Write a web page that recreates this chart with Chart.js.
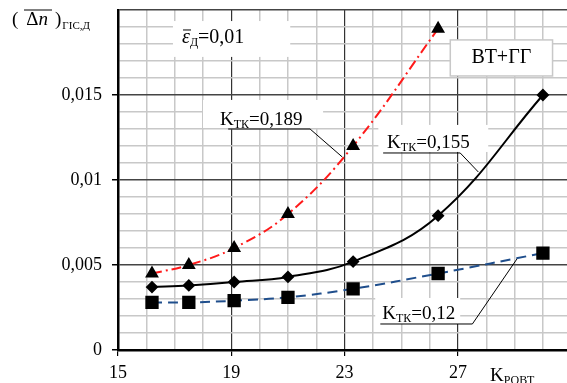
<!DOCTYPE html>
<html>
<head>
<meta charset="utf-8">
<script src="https://cdn.jsdelivr.net/npm/chart.js@4.4.1/dist/chart.umd.min.js"></script>
<style>
  html, body { margin: 0; padding: 0; background: #fff; }
</style>
</head>
<body>
<canvas id="chart" width="567" height="383"></canvas>
<script>
// K_ROVT values (x) and the three series
const kRovt = [16.2, 17.5, 19.1, 21.0, 23.3, 26.3, 30.0];
const k189 = [0.0045, 0.005, 0.006, 0.008, 0.012, 0.0189];
const k155 = [0.0037, 0.0038, 0.004, 0.0043, 0.0052, 0.0079, 0.015];
const k120 = [0.0028, 0.0028, 0.0029, 0.0031, 0.0036, 0.0045, 0.0057];
const xLabels = [15, 19, 23, 27];
const yLabels = [0, 0.005, 0.01, 0.015];

const serif = "'Liberation Serif', 'DejaVu Serif', serif";

function pts(ys) {
  return ys.map((v, i) => ({ x: kRovt[i], y: v }));
}

function isMajorY(v) {
  const r = v / 0.005;
  return Math.abs(r - Math.round(r)) < 1e-6;
}
function isMajorX(v) {
  return xLabels.includes(v);
}

// draws a run of text pieces, each {t, size, dy, italic, gap}
function rich(ctx, x, y, parts) {
  const x0 = x;
  parts.forEach(p => {
    ctx.font = (p.italic ? 'italic ' : '') + p.size + 'px ' + serif;
    const w = ctx.measureText(p.t).width;
    ctx.fillText(p.t, x, y + (p.dy || 0));
    x += w + (p.gap || 0);
  });
  return x - x0;
}

function overline(ctx, x0, x1, y) {
  ctx.beginPath();
  ctx.lineWidth = 1;
  ctx.moveTo(x0, y);
  ctx.lineTo(x1, y);
  ctx.stroke();
}

function kLabel(val) {
  return [
    { t: 'K', size: 19 },
    { t: 'ТК', size: 12, dy: 3 },
    { t: '=' + val, size: 19 }
  ];
}

const notes = {
  id: 'notes',
  beforeDatasetsDraw(chart) {
    const { ctx, scales: { x, y } } = chart;
    const X = v => x.getPixelForValue(v);
    const Y = v => y.getPixelForValue(v);
    ctx.save();
    ctx.fillStyle = '#fff';
    // white boxes hiding the grid
    [[16.94, 0.01935, 21.08, 0.01724],
     [18.0, 0.01471, 22.24, 0.01306],
     [24.19, 0.01324, 28.07, 0.01165],
     [24.08, 0.00306, 27.08, 0.00153],
     [26.73, 0.01824, 30.34, 0.01612]].forEach(b => {
      ctx.fillRect(X(b[0]), Y(b[1]), X(b[2]) - X(b[0]), Y(b[3]) - Y(b[1]));
    });
    // framed box for BT+GG
    ctx.strokeStyle = '#c8c8c8';
    ctx.lineWidth = 1.5;
    ctx.strokeRect(X(26.73), Y(0.01824), X(30.34) - X(26.73), Y(0.01612) - Y(0.01824));

    ctx.fillStyle = '#000';
    ctx.strokeStyle = '#000';
    ctx.textBaseline = 'alphabetic';
    ctx.font = '20px ' + serif;
    ctx.textAlign = 'center';
    ctx.fillText('ВТ+ГГ', (X(26.73) + X(30.34)) / 2, Y(0.01624) - 11);
    ctx.textAlign = 'left';

    const ex = X(17.26), ey = Y(0.01806);
    rich(ctx, ex, ey, [
      { t: 'ε', size: 20, italic: true },
      { t: 'Д', size: 12, dy: 3 },
      { t: '=0,01', size: 20 }
    ]);
    overline(ctx, ex + 1, ex + 9, ey - 13);
    rich(ctx, X(18.6), Y(0.01324), kLabel('0,189'));
    rich(ctx, X(24.5), Y(0.01188), kLabel('0,155'));
    rich(ctx, X(24.33), Y(0.00182), kLabel('0,12'));

    // leader lines
    ctx.lineWidth = 1;
    [[[18.89, 0.0130], [21.78, 0.0130], [22.92, 0.01135]],
     [[24.36, 0.01159], [27.08, 0.01159], [27.72, 0.01047]],
     [[24.26, 0.00153], [27.51, 0.00153], [29.13, 0.00547]]].forEach(l => {
      ctx.beginPath();
      l.forEach((p, i) => (i ? ctx.lineTo(X(p[0]), Y(p[1])) : ctx.moveTo(X(p[0]), Y(p[1]))));
      ctx.stroke();
    });
    ctx.restore();
  },
  afterDraw(chart) {
    const { ctx } = chart;
    ctx.save();
    ctx.fillStyle = '#000';
    ctx.strokeStyle = '#000';
    ctx.textBaseline = 'alphabetic';
    // y axis title
    rich(ctx, 12, 25, [
      { t: '(', size: 19, gap: 8 },
      { t: 'Δ', size: 19 },
      { t: 'n', size: 19, italic: true, gap: 7 },
      { t: ')', size: 19, gap: 1 },
      { t: 'ГІС,Д', size: 11, dy: 4 }
    ]);
    overline(ctx, 24, 52, 10);
    // x axis title
    rich(ctx, 490, 381, [
      { t: 'K', size: 19 },
      { t: 'РОВТ', size: 12, dy: 3 }
    ]);
    ctx.restore();
  }
};

new Chart(document.getElementById('chart'), {
  type: 'line',
  data: {
    datasets: [
      {
        label: 'Kтк=0,189',
        data: pts(k189),
        borderColor: '#ff1a1a',
        borderWidth: 2,
        borderDash: [10, 4, 2, 4],
        pointStyle: 'triangle',
        pointRadius: 6,
        pointBackgroundColor: '#000',
        pointBorderColor: '#000',
        tension: 0.4
      },
      {
        label: 'Kтк=0,155',
        data: pts(k155),
        borderColor: '#000',
        borderWidth: 2,
        pointStyle: 'rectRot',
        pointRadius: 5,
        pointBackgroundColor: '#000',
        pointBorderColor: '#000',
        tension: 0.4
      },
      {
        label: 'Kтк=0,12',
        data: pts(k120),
        borderColor: '#1f4e8c',
        borderWidth: 2,
        borderDash: [10, 6],
        pointStyle: 'rect',
        pointRadius: 8,
        pointBackgroundColor: '#000',
        pointBorderColor: '#000',
        tension: 0.4
      }
    ]
  },
  options: {
    responsive: false,
    animation: false,
    layout: { autoPadding: false, padding: { top: 10, left: 0, right: 0, bottom: 0 } },
    plugins: { legend: { display: false }, tooltip: { enabled: false } },
    scales: {
      x: {
        type: 'linear',
        min: 15,
        max: 30.85,
        afterBuildTicks: axis => {
          axis.ticks = [];
          for (let v = 15; v <= 30; v++) axis.ticks.push({ value: v });
        },
        afterFit: axis => {
          axis.height = 33;
          axis.paddingLeft = 0;
          axis.paddingRight = 0;
        },
        grid: {
          color: c => (isMajorX(c.tick.value) ? '#333' : '#c8c8c8'),
          lineWidth: c => (isMajorX(c.tick.value) ? 1.2 : 1.5),
          tickColor: c => (isMajorX(c.tick.value) ? '#000' : 'rgba(0,0,0,0)'),
          tickLength: 6
        },
        border: { color: '#000', width: 2.5 },
        ticks: {
          autoSkip: false,
          maxRotation: 0,
          padding: 6,
          color: '#000',
          font: { family: serif, size: 18 },
          callback: v => (xLabels.includes(v) ? String(v) : '')
        }
      },
      y: {
        min: 0,
        max: 0.02,
        afterFit: axis => {
          axis.width = 118;
          axis.paddingTop = 0;
          axis.paddingBottom = 0;
        },
        ticks: {
          stepSize: 0.001,
          autoSkip: false,
          padding: 10,
          color: '#000',
          font: { family: serif, size: 18 },
          callback: v => {
            const hit = yLabels.find(l => Math.abs(l - v) < 1e-9);
            return hit === undefined ? '' : String(hit).replace('.', ',');
          }
        },
        grid: {
          color: c => (isMajorY(c.tick.value) ? '#444' : '#c8c8c8'),
          lineWidth: 1.5,
          tickColor: c => (isMajorY(c.tick.value) && c.tick.value < 0.019 ? '#000' : 'rgba(0,0,0,0)'),
          tickLength: 6
        },
        border: { color: '#000', width: 2.5 }
      }
    }
  },
  plugins: [notes]
});
</script>
</body>
</html>
